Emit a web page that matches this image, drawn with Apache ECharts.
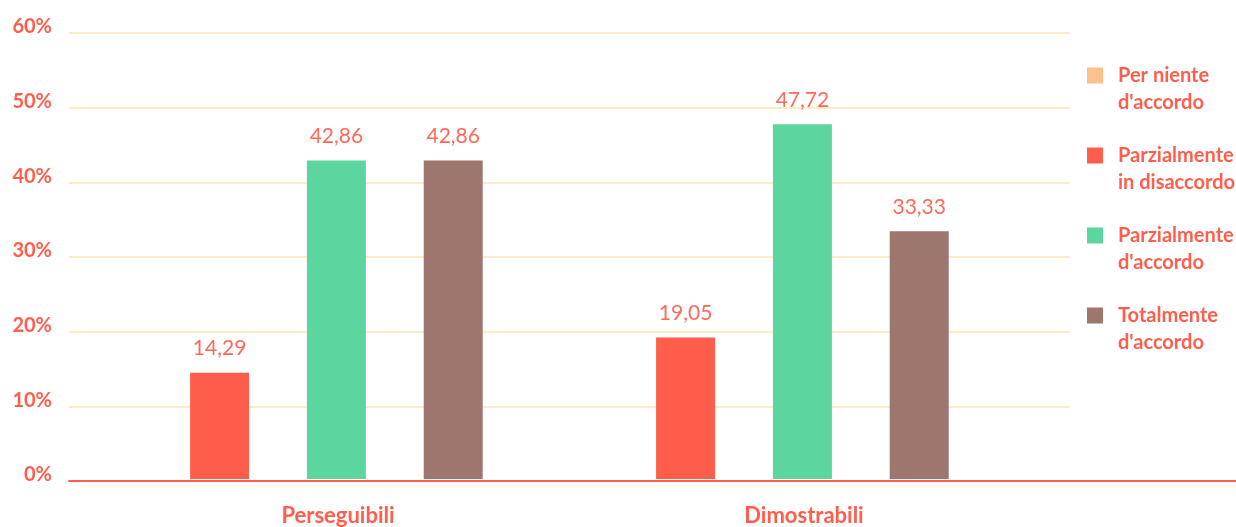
<!doctype html>
<html>
<head>
  <meta charset="utf-8">
  <script src="https://cdn.jsdelivr.net/npm/echarts@6/dist/echarts.min.js"></script>
  <style>
    html, body { margin: 0; width: 100%; height: 100%; background: #fff; }
    #main { width: 1236px; height: 527px; }
  </style>
</head>
<body>
  <div id="main"></div>
  <script>
    // dati
    var categories = ['Perseguibili', 'Dimostrabili'];
    var seriesNames = ['Per niente\nd\'accordo', 'Parzialmente\nin disaccordo', 'Parzialmente\nd\'accordo', 'Totalmente\nd\'accordo'];
    var perNiente = [0, 0];
    var parzDisaccordo = [14.29, 19.05];
    var parzAccordo = [42.86, 47.72];
    var totAccordo = [42.86, 33.33];
    var yTicks = [0, 10, 20, 30, 40, 50, 60];

    var colors = ['#ffc18c', '#ff5e4c', '#5dd59e', '#9d776d'];
    var coral = '#ff5e4c';
    var font = 'Lato';

    // quadrato in alto + punto vuoto per allineare l'icona alla prima riga
    var legendIcon = 'path://M0,0H16V16H0Z M26,43';

    var chart = echarts.init(document.getElementById('main'));

    function makeBar(name, values, idx) {
      return {
        type: 'bar',
        name: name,
        xAxisIndex: 1,
        yAxisIndex: 1,
        data: values,
        barWidth: 59,
        barGap: '98%',
        itemStyle: { color: colors[idx] },
        label: {
          show: true,
          position: 'top',
          distance: 14,
          color: '#ff6a58',
          fontFamily: font,
          fontSize: 21,
          formatter: function (p) {
            return p.value ? p.value.toFixed(2).replace('.', ',') : '';
          }
        }
      };
    }

    var option = {
      animation: false,
      textStyle: { fontFamily: font },
      grid: [
        { left: 69, right: 166, top: 33, bottom: 46 },
        { left: 45, width: 932, top: 33, bottom: 46 },
        { left: 69, right: 0, top: 33, bottom: 46 }
      ],
      legend: {
        orient: 'vertical',
        left: 1087,
        top: 62,
        padding: 0,
        itemWidth: 26,
        itemHeight: 43,
        itemGap: 26,
        icon: legendIcon,
        selectedMode: false,
        data: seriesNames,
        textStyle: {
          color: coral,
          fontFamily: font,
          fontWeight: 'bold',
          fontSize: 20,
          lineHeight: 27
        }
      },
      xAxis: [
        { gridIndex: 0, type: 'value', show: false },
        {
          gridIndex: 1,
          type: 'category',
          data: categories,
          axisLine: { show: false },
          axisTick: { show: false },
          axisLabel: {
            margin: 26,
            color: coral,
            fontFamily: font,
            fontWeight: 'bold',
            fontSize: 22,
            padding: [0, 0, 0, 120]
          }
        },
        {
          gridIndex: 2,
          type: 'value',
          axisLine: { show: true, onZero: false, lineStyle: { color: coral, width: 2 } },
          axisTick: { show: false },
          axisLabel: { show: false },
          splitLine: { show: false }
        }
      ],
      yAxis: [
        {
          gridIndex: 0,
          type: 'value',
          min: yTicks[0],
          max: yTicks[yTicks.length - 1],
          interval: 10,
          axisLine: { show: false },
          axisTick: { show: false },
          axisLabel: {
            margin: 17,
            color: coral,
            fontFamily: font,
            fontWeight: 'bold',
            fontSize: 20,
            verticalAlign: 'bottom',
            lineHeight: 12,
            formatter: '{value}%'
          },
          splitLine: { lineStyle: { color: '#ffebc6', width: 2 } }
        },
        { gridIndex: 1, type: 'value', min: 0, max: 60, show: false },
        { gridIndex: 2, type: 'value', min: 0, max: 60, show: false }
      ],
      series: [
        makeBar(seriesNames[0], perNiente, 0),
        makeBar(seriesNames[1], parzDisaccordo, 1),
        makeBar(seriesNames[2], parzAccordo, 2),
        makeBar(seriesNames[3], totAccordo, 3)
      ]
    };

    chart.setOption(option);
  </script>
</body>
</html>
